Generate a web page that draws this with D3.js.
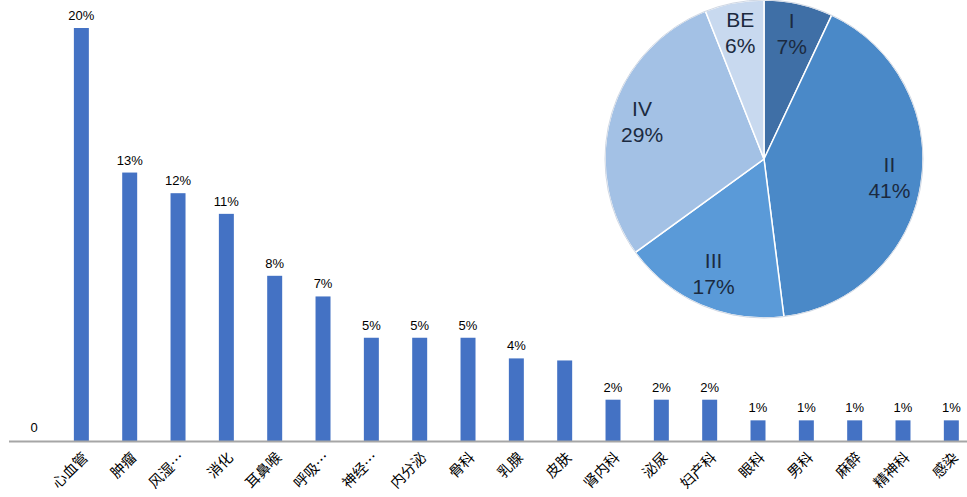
<!DOCTYPE html>
<html>
<head>
<meta charset="utf-8">
<script src="https://cdn.jsdelivr.net/npm/d3@7"></script>
<style>
  html, body { margin: 0; padding: 0; background: #fff; }
  svg { display: block; }
</style>
</head>
<body>
<svg id="chart" width="967" height="497"></svg>
<script>
// ---- Data ----
const categories = ["心血管","肿瘤","风湿…","消化","耳鼻喉","呼吸…","神经…","内分泌","骨科","乳腺","皮肤","肾内科","泌尿","妇产科","眼科","男科","麻醉","精神科","感染"];
const values = [20, 13, 12, 11, 8, 7, 5, 5, 5, 4, 3.9, 2, 2, 2, 1, 1, 1, 1, 1];
const barLabels = ["20%","13%","12%","11%","8%","7%","5%","5%","5%","4%","","2%","2%","2%","1%","1%","1%","1%","1%"];
const yTickValues = [0];

const pieCategories = ["I", "II", "III", "IV", "BE"];
const pieValues = [7, 41, 17, 29, 6];
const pieColors = ["#3f6fa6", "#4a89c8", "#5a9ad8", "#a3c1e5", "#c8d9ef"];

// ---- Layout ----
const svg = d3.select("#chart");
const baseY = 441;
const x = d3.scaleBand().domain(categories).range([57.2, 975.5]).paddingInner(0.69).paddingOuter(0.345);
const y = d3.scaleLinear().domain([0, 20]).range([baseY, 28]);

// bars
svg.append("g").selectAll("rect").data(values).join("rect")
  .attr("x", (d, i) => x(categories[i]))
  .attr("width", x.bandwidth())
  .attr("y", d => y(d))
  .attr("height", d => baseY - y(d))
  .attr("fill", "#4472c4");

// bar labels
svg.append("g").selectAll("text").data(barLabels).join("text")
  .attr("x", (d, i) => x(categories[i]) + x.bandwidth() / 2)
  .attr("y", (d, i) => y(values[i]) - 8)
  .attr("text-anchor", "middle")
  .attr("font-family", "Liberation Sans, Arial, sans-serif")
  .attr("font-size", 13)
  .attr("fill", "#000")
  .text(d => d);

// x axis line
svg.append("line").attr("x1", 9).attr("x2", 967).attr("y1", baseY + 0.5).attr("y2", baseY + 0.5)
  .attr("stroke", "#a6a6a6").attr("stroke-width", 2);

// y tick label
svg.append("g").selectAll("text").data(yTickValues).join("text")
  .attr("x", 34).attr("y", d => y(d) - 9)
  .attr("text-anchor", "middle")
  .attr("font-family", "Liberation Sans, Arial, sans-serif")
  .attr("font-size", 13)
  .attr("fill", "#000")
  .text(d => d);

// x labels
svg.append("g").selectAll("text").data(categories).join("text")
  .attr("transform", d => `translate(${x(d) + x.bandwidth() / 2 + 4},${baseY + 14}) rotate(-45)`)
  .attr("text-anchor", "end")
  .attr("dy", "0.35em")
  .attr("font-family", "Noto Sans CJK SC, sans-serif")
  .attr("font-size", 14.5)
  .attr("fill", "#000")
  .text(d => d);

// ---- Pie ----
const cx = 764, cy = 159, R = 159;
const pie = d3.pie().sort(null).value(d => d)(pieValues);
const arc = d3.arc().innerRadius(0).outerRadius(R);
const labelArc = d3.arc().innerRadius(127).outerRadius(127);
const pg = svg.append("g").attr("transform", `translate(${cx},${cy})`);
pg.selectAll("path").data(pie).join("path")
  .attr("d", arc)
  .attr("fill", (d, i) => pieColors[i])
  .attr("stroke", "#ffffff")
  .attr("stroke-width", 1.5);
pg.append("circle").attr("r", R).attr("fill", "none").attr("stroke", "#d0d8e4").attr("stroke-width", 1);

const lab = pg.selectAll("g.lab").data(pie).join("g").attr("class", "lab")
  .attr("transform", d => { const c = labelArc.centroid(d); return `translate(${c[0]},${c[1]})`; });
lab.append("text")
  .attr("text-anchor", "middle")
  .attr("font-family", "Liberation Sans, Arial, sans-serif")
  .attr("font-size", 21)
  .attr("fill", "#1b2a40")
  .each(function (d, i) {
    const t = d3.select(this);
    t.append("tspan").attr("x", 0).attr("dy", "-0.35em").text(pieCategories[i]);
    t.append("tspan").attr("x", 0).attr("dy", "1.25em").text(pieValues[i] + "%");
  });
</script>
</body>
</html>
